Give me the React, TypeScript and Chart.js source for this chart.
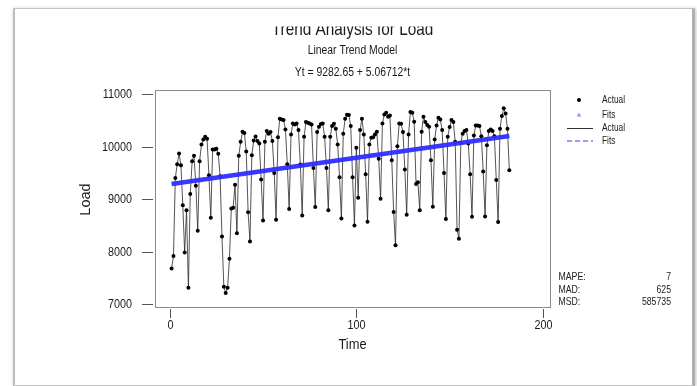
import React, { useEffect, useRef } from "react";
import { Chart, registerables } from "chart.js";

Chart.register(...registerables);

// ---------- data ----------
const loadValues: number[] = [
  7676, 7918, 9405, 9667, 9871, 9647, 8882, 7982, 8786, 7312,
  9099, 9724, 9826, 9258, 8397, 9724, 10043, 10139, 10190, 10151,
  9456, 8646, 9947, 9947, 9960, 9864, 9437, 8288, 7331, 7210,
  7312, 7861, 8824, 8837, 9277, 8352, 9826, 10094, 10285, 10260,
  9909, 8748, 8193, 9839, 10120, 10196, 10107, 10062, 9373, 8595,
  10094, 10298, 10247, 10279, 10107, 9501, 8607, 10183, 10534, 10521,
  10509, 10330, 9667, 8812, 10234, 10445, 10426, 10445, 10317, 9660,
  8690, 10190, 10470, 10458, 10445, 10426, 9596, 8850, 10279, 10381,
  10432, 10445, 10190, 9596, 8786, 10190, 10394, 10439, 10343, 10043,
  9418, 8633, 10247, 10534, 10611, 10604, 10394, 9418, 8499, 9979,
  9029, 10317, 10534, 10234, 9475, 8569, 10043, 10171, 10183, 10234,
  10285, 9769, 9009, 10445, 10617, 10649, 10573, 10598, 9743, 8754,
  8123, 10011, 10445, 10439, 10279, 9564, 8703, 10234, 10662, 10649,
  10477, 9290, 9322, 8786, 10285, 10573, 10470, 10413, 10381, 9743,
  8856, 10139, 10407, 10553, 10521, 10317, 9501, 8620, 10190, 10375,
  10509, 10470, 10094, 8416, 8244, 10075, 10247, 10298, 10317, 10062,
  9475, 8665, 10215, 10407, 10407, 10394, 10202, 9526, 8671, 10030,
  10298, 10330, 10298, 10202, 9367, 8563, 10343, 10585, 10732, 10636,
  10343, 9552,
];
const timeIndex: number[] = loadValues.map((_, i) => i + 1);
const fitTimes: number[] = [1, 182];
const fitValues: number[] = [9288, 10205];
const xTickValues: number[] = [0, 100, 200];
const yTickValues: number[] = [7000, 8000, 9000, 10000, 11000];
const titleText = "Trend Analysis for Load";
const subtitleText = "Linear Trend Model";
const equationText = "Yt = 9282.65 + 5.06712*t";
const xAxisTitle = "Time";
const yAxisTitle = "Load";
const legendLabels: string[] = ["Actual", "Fits", "Actual", "Fits"];
const statLabels: string[] = ["MAPE:", "MAD:", "MSD:"];
const statValues: string[] = ["7", "625", "585735"];

const FONT = '"Liberation Sans", Arial, sans-serif';
const SX = 0.83; // horizontal condensing of the original's text

function drawText(
  ctx: CanvasRenderingContext2D,
  text: string,
  x: number,
  y: number,
  size: number,
  align: CanvasTextAlign,
  baseline: CanvasTextBaseline = "middle",
  rotate = 0,
  squeeze = SX
) {
  ctx.save();
  ctx.translate(x, y);
  if (rotate) {
    ctx.rotate(rotate);
    ctx.scale(1, squeeze);
  } else {
    ctx.scale(squeeze, 1);
  }
  ctx.font = `${size}px ${FONT}`;
  ctx.textAlign = align;
  ctx.textBaseline = baseline;
  ctx.fillText(text, 0, 0);
  ctx.restore();
}

const decorPlugin = {
  id: "decor",
  beforeDatasetsDraw(chart: any) {
    const { ctx, chartArea } = chart;
    ctx.save();
    ctx.strokeStyle = "#8a8a8a";
    ctx.lineWidth = 1;
    ctx.strokeRect(
      Math.round(chartArea.left) + 0.5,
      Math.round(chartArea.top) + 0.5,
      Math.round(chartArea.right - chartArea.left),
      Math.round(chartArea.bottom - chartArea.top)
    );
    ctx.strokeStyle = "#555";
    ctx.fillStyle = "#1a1a1a";
    const ys = chart.scales.y;
    yTickValues.forEach((v) => {
      const py = Math.round(ys.getPixelForValue(v)) + 0.5;
      ctx.beginPath();
      ctx.moveTo(chartArea.left - 13, py);
      ctx.lineTo(chartArea.left - 2, py);
      ctx.stroke();
      drawText(ctx, String(v), chartArea.left - 23, py, 13, "right");
    });
    const xs = chart.scales.x;
    xTickValues.forEach((v) => {
      const px = Math.round(xs.getPixelForValue(v)) + 0.5;
      ctx.beginPath();
      ctx.moveTo(px, chartArea.bottom + 2);
      ctx.lineTo(px, chartArea.bottom + 11);
      ctx.stroke();
      drawText(ctx, String(v), px, chartArea.bottom + 18, 13, "center");
    });
    ctx.restore();
  },
  afterDraw(chart: any) {
    const { ctx, chartArea } = chart;
    const cx = (chartArea.left + chartArea.right) / 2;
    ctx.save();
    ctx.fillStyle = "#1a1a1a";
    // clipped title
    ctx.save();
    ctx.beginPath();
    ctx.rect(0, 26.5, chart.width, 40);
    ctx.clip();
    drawText(ctx, titleText, cx, 35, 18.5, "center", "alphabetic");
    ctx.restore();

    drawText(ctx, subtitleText, cx, 50.5, 12.5, "center");
    drawText(ctx, equationText, cx, 73, 12.5, "center");

    drawText(ctx, xAxisTitle, cx, 345, 15.5, "center");
    drawText(ctx, yAxisTitle, 86, (chartArea.top + chartArea.bottom) / 2 + 1, 14.5, "center", "middle", -Math.PI / 2, 0.95);

    // legend
    const lx = 579;
    const tx = 602;
    const rows = [100, 115, 128, 141];
    ctx.fillStyle = "#000";
    ctx.beginPath();
    ctx.arc(lx, rows[0], 2, 0, Math.PI * 2);
    ctx.fill();
    ctx.fillStyle = "#8c8cff";
    ctx.beginPath();
    ctx.moveTo(lx, rows[1] - 2.5);
    ctx.lineTo(lx + 2.2, rows[1] + 1.5);
    ctx.lineTo(lx - 2.2, rows[1] + 1.5);
    ctx.closePath();
    ctx.fill();
    ctx.strokeStyle = "#333";
    ctx.lineWidth = 1;
    ctx.beginPath();
    ctx.moveTo(567, rows[2] + 0.5);
    ctx.lineTo(593, rows[2] + 0.5);
    ctx.stroke();
    ctx.strokeStyle = "#9a9aff";
    ctx.lineWidth = 2;
    ctx.setLineDash([5, 3]);
    ctx.beginPath();
    ctx.moveTo(567, rows[3]);
    ctx.lineTo(593, rows[3]);
    ctx.stroke();
    ctx.setLineDash([]);

    ctx.fillStyle = "#1a1a1a";
    legendLabels.forEach((t, i) => drawText(ctx, t, tx, rows[i], 10, "left"));

    // stats
    const sRows = [277.5, 290, 302.5];
    statLabels.forEach((t, i) => {
      drawText(ctx, t, 558.5, sRows[i], 10.5, "left");
      drawText(ctx, statValues[i], 671, sRows[i], 10.5, "right");
    });
    ctx.restore();
  },
};

export default function App() {
  const canvasRef = useRef<HTMLCanvasElement | null>(null);

  useEffect(() => {
    if (!canvasRef.current) return;
    const chart = new Chart(canvasRef.current, {
      type: "scatter",
      data: {
        datasets: [
          {
            label: "Actual",
            data: loadValues.map((v, i) => ({ x: timeIndex[i], y: v })),
            showLine: true,
            borderColor: "#2a2a2a",
            borderWidth: 0.8,
            pointRadius: 2,
            pointBackgroundColor: "#000",
            pointBorderWidth: 0,
            order: 1,
          },
          {
            label: "Fits",
            data: fitValues.map((v, i) => ({ x: fitTimes[i], y: v })),
            showLine: true,
            borderColor: "rgba(45,45,255,0.95)",
            borderWidth: 4.5,
            pointRadius: 0,
            order: 0,
          },
        ],
      },
      options: {
        responsive: false,
        animation: false,
        devicePixelRatio: 1,
        layout: { padding: { left: 0, top: 90, right: 147, bottom: 0 } },
        plugins: {
          legend: { display: false },
          tooltip: { enabled: false },
          title: { display: false },
        },
        scales: {
          x: {
            type: "linear",
            min: -7.9,
            max: 203.8,
            grid: { display: false, drawTicks: false },
            border: { display: false },
            afterBuildTicks: (s: any) => {
              s.ticks = xTickValues.map((v) => ({ value: v }));
            },
            afterFit: (s: any) => {
              s.height = 79;
            },
            ticks: { display: false },
          },
          y: {
            type: "linear",
            min: 6943,
            max: 11082,
            grid: { display: false, drawTicks: false },
            border: { display: false },
            afterBuildTicks: (s: any) => {
              s.ticks = yTickValues.map((v) => ({ value: v }));
            },
            afterFit: (s: any) => {
              s.width = 155;
            },
            ticks: { display: false },
          },
        },
      },
      plugins: [decorPlugin],
    });
    return () => chart.destroy();
  }, []);

  return (
    <div style={{ position: "fixed", left: 0, top: 0, width: 697, height: 386, background: "#fff", overflow: "hidden" }}>
      <div
        style={{
          position: "absolute",
          left: 13,
          top: 8,
          width: 677,
          height: 376,
          border: "1px solid #c4c4c4",
          borderLeft: "2px solid #bdbdbd",
          borderRight: "3px solid #b0b0b0",
          boxShadow: "1px 1px 4px rgba(0,0,0,0.25)",
          background: "#fff",
        }}
      />
      <canvas
        ref={canvasRef}
        width={697}
        height={386}
        style={{ position: "absolute", left: 0, top: 0, width: 697, height: 386 }}
      />
    </div>
  );
}
